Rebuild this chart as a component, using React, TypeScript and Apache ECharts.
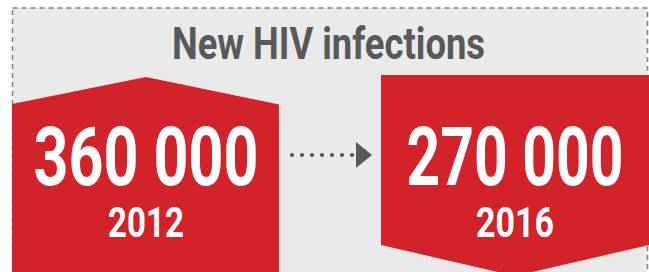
import React, { useEffect, useRef } from "react";
import * as echarts from "echarts";

const title = "New HIV infections";
const years = ["2012", "2016"];
const infections = [360000, 270000];

const RED = "#d2232a";
const GRAY = "#58595b";
const BG = "#eaeaea";
const FONT = "Roboto, 'Noto Sans', sans-serif";

const fmt = (v: number) => String(v).replace(/\B(?=(\d{3})+(?!\d))/g, " ");

function fitScale(text: string, font: string, target: number) {
  const c = document.createElement("canvas").getContext("2d");
  if (!c) return 0.8;
  c.font = font;
  const w = c.measureText(text).width;
  return w > 0 ? target / w : 0.8;
}

export default function App() {
  const ref = useRef<HTMLDivElement>(null);
  useEffect(() => {
    if (!ref.current) return;
    const chart = echarts.init(ref.current, null, { renderer: "svg" });
    const centers = [146, 515];
    const bigW = [225, 217];
    const smallW = [76, 78];
    const dots = [0, 1, 2, 3, 4, 5, 6].map((i) => ({
      type: "circle",
      shape: { cx: 292 + i * 10, cy: 155, r: 2.1 },
      style: { fill: GRAY },
    }));
    const bigFont = `bold 81px ${FONT}`;
    const smallFont = `bold 42px ${FONT}`;
    const titleFont = `bold 45px ${FONT}`;
    const texts: any[] = [];
    infections.forEach((v, i) => {
      const t = fmt(v);
      texts.push({
        type: "text",
        x: centers[i],
        y: 157,
        scaleX: fitScale(t, bigFont, bigW[i]),
        style: {
          text: t,
          fill: "#ffffff",
          font: bigFont,
          align: "center",
          verticalAlign: "middle",
        },
      });
      texts.push({
        type: "text",
        x: centers[i],
        y: 223,
        scaleX: fitScale(years[i], smallFont, smallW[i]),
        style: {
          text: years[i],
          fill: "#ffffff",
          font: smallFont,
          align: "center",
          verticalAlign: "middle",
        },
      });
    });
    chart.setOption({
      animation: false,
      backgroundColor: "#ffffff",
      graphic: [
        {
          type: "rect",
          shape: { x: 12.5, y: 8, width: 635, height: 300 },
          style: { fill: BG, stroke: "#808080", lineWidth: 1.5, lineDash: [5, 4] },
        },
        {
          type: "polygon",
          shape: { points: [[12, 104], [146, 77], [279, 104.5], [279, 280], [12, 280]] },
          style: { fill: RED },
        },
        {
          type: "polygon",
          shape: { points: [[381, 75], [649, 75], [649, 245], [515, 276], [381, 245]] },
          style: { fill: RED },
        },
        {
          type: "text",
          x: 328.5,
          y: 44,
          scaleX: fitScale(title, titleFont, 313),
          style: {
            text: title,
            fill: GRAY,
            font: titleFont,
            align: "center",
            verticalAlign: "middle",
          },
        },
        ...dots,
        {
          type: "polygon",
          shape: { points: [[356, 142], [372, 155], [356, 168]] },
          style: { fill: GRAY },
        },
        ...texts,
      ],
    });
    return () => chart.dispose();
  }, []);
  return (
    <div
      ref={ref}
      style={{ position: "absolute", left: 0, top: 0, width: 649, height: 272 }}
    />
  );
}
